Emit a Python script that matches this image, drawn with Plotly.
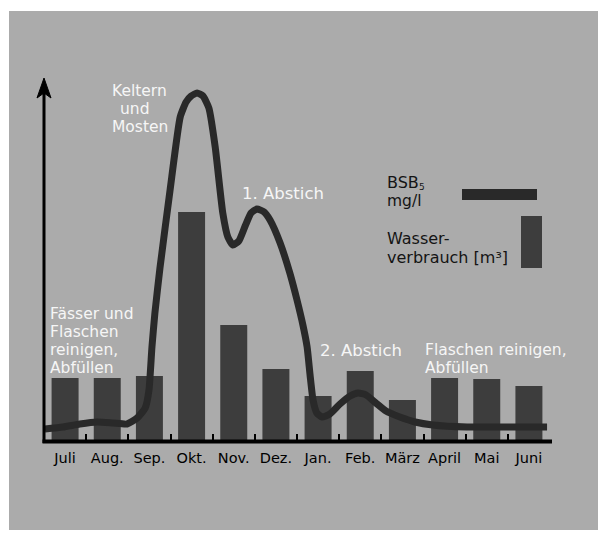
import plotly.graph_objects as go

# ---------------- data ----------------
months = ["Juli", "Aug.", "Sep.", "Okt.", "Nov.", "Dez.", "Jan.", "Feb.", "März", "April", "Mai", "Juni"]
# water consumption (relative units)
water = [63, 63, 65, 229, 116, 72, 45, 70, 41, 63, 62, 55]
# BSB5 curve: position along the month axis (0 = Juli centre) and relative value
bsb_x = [-0.48, -0.05, 0.35, 0.76, 1.14, 1.47, 1.71, 1.90, 1.99, 2.06, 2.13, 2.25, 2.49, 2.73,
         2.87, 2.99, 3.13, 3.27, 3.41, 3.56, 3.74, 3.86, 3.98, 4.12, 4.27, 4.41, 4.55, 4.72,
         4.86, 5.10, 5.33, 5.50, 5.64, 5.74, 5.81, 5.88, 5.97, 6.09, 6.28, 6.52, 6.76, 6.95,
         7.14, 7.37, 7.61, 7.94, 8.30, 8.72, 9.53, 10.31, 11.43]
bsb_y = [12, 14, 17, 19, 18, 17, 23, 33, 51, 94, 128, 173, 251, 324,
         339, 345, 348, 345, 333, 294, 228, 204, 196, 200, 215, 228, 232, 229,
         221, 198, 168, 141, 116, 94, 66, 41, 28, 24, 27, 37, 45, 48,
         46, 38, 30, 24, 19, 16, 14, 14, 14]

# ---------------- geometry helpers (page pixels -> paper) ----------------
PL, PR, PT, PB = 44, 550, 78, 441
W, H = PR - PL, PB - PT


def fx(x):
    return (x - PL) / W


def fy(y):
    return (PB - y) / H


GREY = "#ababab"
LINE_C = "#292929"
BAR_C = "#3d3d3d"
FONT = "DejaVu Sans"

fig = go.Figure()
fig.add_bar(x=months, y=water, marker_color=BAR_C, marker_line_width=0,
            xaxis="x", yaxis="y", hoverinfo="skip")
fig.add_scatter(x=bsb_x, y=bsb_y, mode="lines", xaxis="x2", yaxis="y",
                line=dict(color=LINE_C, width=7, shape="spline", smoothing=0.5),
                hoverinfo="skip")

shapes = [
    # grey picture background
    dict(type="rect", xref="paper", yref="paper", x0=fx(9), x1=fx(605), y0=fy(545), y1=fy(11),
         fillcolor=GREY, line_width=0, layer="below"),
    # y axis line
    dict(type="line", xref="paper", yref="paper", x0=0, x1=0, y0=fy(443), y1=fy(92),
         line=dict(color="black", width=3)),
    # x axis line
    dict(type="line", xref="paper", yref="paper", x0=fx(42.5), x1=fx(552), y0=fy(441.5), y1=fy(441.5),
         line=dict(color="black", width=4)),
    # arrow head
    dict(type="path", xref="paper", yref="paper", xsizemode="pixel", ysizemode="pixel",
         xanchor=0, yanchor=fy(78), path="M0,0 L-7,-20 L0,-15 L7,-20 Z",
         fillcolor="black", line=dict(color="black", width=1)),
    # legend swatches
    dict(type="rect", xref="paper", yref="paper", x0=fx(462), x1=fx(537), y0=fy(200), y1=fy(189),
         fillcolor=LINE_C, line_width=0),
    dict(type="rect", xref="paper", yref="paper", x0=fx(521), x1=fx(542), y0=fy(268), y1=fy(216),
         fillcolor=BAR_C, line_width=0),
]

WHITE = "#f6f6f6"
DARK = "#141414"
texts = [
    ("Keltern", 139, 91, "center", WHITE, 15.5),
    ("und", 135, 109, "center", WHITE, 15.5),
    ("Mosten", 140, 127, "center", WHITE, 15.5),
    ("1. Abstich", 240, 193.5, "left", WHITE, 16.5),
    ("Fässer und", 48, 314, "left", WHITE, 15.5),
    ("Flaschen", 48, 332, "left", WHITE, 15.5),
    ("reinigen,", 48, 350, "left", WHITE, 15.5),
    ("Abfüllen", 48, 368, "left", WHITE, 15.5),
    ("2. Abstich", 318, 350, "left", WHITE, 16.5),
    ("Flaschen reinigen,", 423, 350, "left", WHITE, 15.5),
    ("Abfüllen", 423, 368, "left", WHITE, 15.5),
    ("BSB", 385, 182, "left", DARK, 16),
    ("5", 416.5, 187, "left", DARK, 9),
    ("mg/l", 385, 201, "left", DARK, 15.5),
    ("Wasser-", 385, 238, "left", DARK, 16),
    ("verbrauch [m³]", 385, 257, "left", DARK, 16),
]
annotations = [
    dict(text=t, x=fx(x), y=fy(y), xref="paper", yref="paper", xanchor=a, yanchor="middle",
         showarrow=False, font=dict(family=FONT, size=s, color=c))
    for t, x, y, a, c, s in texts
]

fig.update_layout(
    width=598, height=522,
    margin=dict(l=PL - 8, r=598 - (PR - 8), t=PT - 8, b=522 - (PB - 8), pad=0),
    paper_bgcolor="white", plot_bgcolor="rgba(0,0,0,0)",
    showlegend=False, bargap=0.36,
    shapes=shapes, annotations=annotations,
    xaxis=dict(type="category", range=[-0.5, 11.5], tickson="boundaries", ticks="inside",
               ticklen=7, tickwidth=2, tickcolor="black", showgrid=False, zeroline=False,
               showline=False, ticklabelstandoff=6, tickangle=0,
               tickfont=dict(family=FONT, size=14.5, color="black")),
    xaxis2=dict(overlaying="x", range=[-0.5, 11.5], visible=False),
    yaxis=dict(range=[0, H], visible=False, showgrid=False, zeroline=False),
)

fig.write_html("out.html")
